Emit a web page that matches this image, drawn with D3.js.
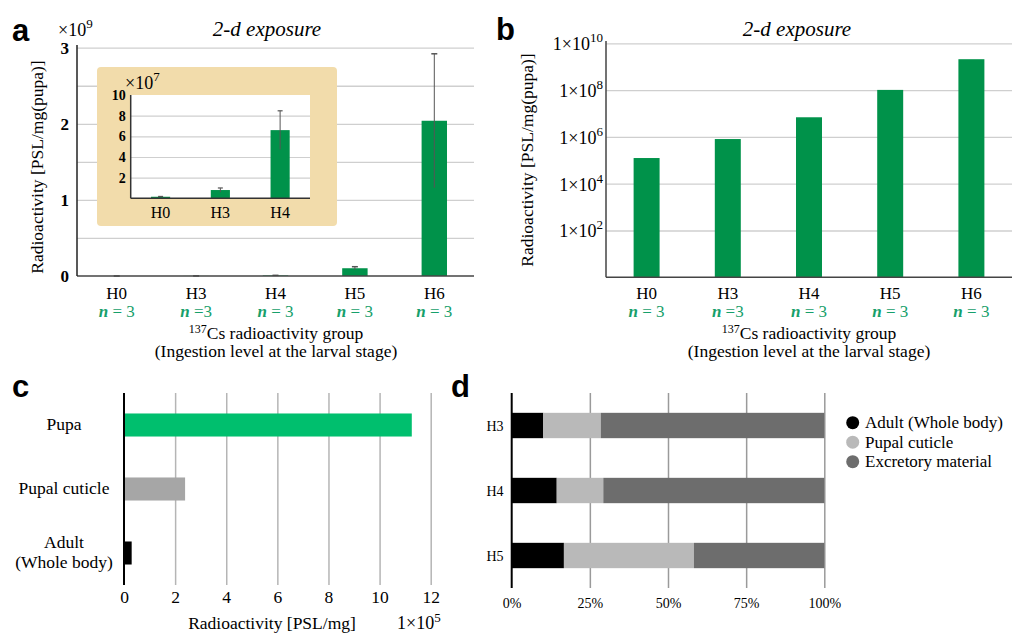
<!DOCTYPE html>
<html>
<head>
<meta charset="utf-8">
<script src="https://cdn.jsdelivr.net/npm/d3@7"></script>
<style>
  body { margin: 0; background: #fff; }
  svg text { font-family: "Liberation Serif", "Times New Roman", serif; }
  .letter { font-family: "Liberation Sans", Arial, sans-serif !important; font-weight: bold; font-size: 31px; }
</style>
</head>
<body>
<div id="fig"></div>
<script>
// ---- data ----
var groups = ["H0", "H3", "H4", "H5", "H6"];
var nLabels = ["n = 3", "n =3", "n = 3", "n = 3", "n = 3"];
// panel a (linear, PSL/mg pupa)
var aMeans = [1.25e5, 8.1e5, 6.9e6, 1.02e8, 2.04e9];
var aErrs = [0.2e5, 1.5e5, 1.9e6, 2.0e7, 0.88e9];
var aGrid = [0.5e9, 1e9, 1.5e9, 2e9, 2.5e9, 3e9];
var aTicks = [0, 1e9, 2e9, 3e9];
// inset (x10^7)
var insetGroups = ["H0", "H3", "H4"];
var insetMeans = [0.15, 0.8, 6.6];
var insetErrs = [0.03, 0.2, 1.87];
var insetGrid = [2, 4, 6, 8];
var insetTicks = [2, 4, 6, 8, 10];
// panel b (log)
var bMeans = [1.25e5, 8.1e5, 6.9e6, 1.02e8, 2.09e9];
var bTicks = [1e2, 1e4, 1e6, 1e8, 1e10];
// panel c
var cCats = ["Pupa", "Pupal cuticle", "Adult"];
var cValues = [11.26, 2.39, 0.30]; // x10^5
var cColors = ["#00bf6e", "#a6a6a6", "#000000"];
var cTicks = [0, 2, 4, 6, 8, 10, 12];
// panel d (percent)
var dCats = ["H3", "H4", "H5"];
var dAdult = [10.1, 14.4, 16.7];
var dCuticle = [18.4, 14.9, 41.6];
var dExcretory = [71.5, 70.7, 41.7];
var dSeries = ["Adult (Whole body)", "Pupal cuticle", "Excretory material"];
var dColors = ["#000000", "#b9b9b9", "#6d6d6d"];
var dTicks = [0, 25, 50, 75, 100];

var green = "#00924a", nGreen = "#17a06b", gridC = "#cfcfcf";
var fs = 17.5;

var svg = d3.select("#fig").append("svg")
  .attr("width", 1017).attr("height", 634);
svg.append("rect").attr("width", 1017).attr("height", 634).attr("fill", "#fff");

function sup(sel, base, exp, supSize, rise) {
  sel.append("tspan").text(base);
  sel.append("tspan").attr("dy", -rise).attr("font-size", supSize).text(exp);
}

function groupLabels(g, x, y0) {
  groups.forEach(function(d, i) {
    var cx = x(d) + x.bandwidth() / 2;
    g.append("text").attr("x", cx).attr("y", y0).attr("text-anchor", "middle")
      .attr("font-size", 17).text(d);
    var t = g.append("text").attr("x", cx).attr("y", y0 + 18).attr("text-anchor", "middle")
      .attr("font-size", 17).attr("fill", nGreen);
    t.append("tspan").attr("font-style", "italic").attr("font-weight", "bold").text("n");
    t.append("tspan").text(nLabels[i].slice(1));
  });
}

function xTitle(g, cx, y0) {
  var t = g.append("text").attr("x", cx).attr("y", y0).attr("text-anchor", "middle").attr("font-size", fs);
  t.append("tspan").attr("font-size", 12).attr("dy", -6).text("137");
  t.append("tspan").attr("dy", 6).text("Cs radioactivity group");
  g.append("text").attr("x", cx).attr("y", y0 + 18).attr("text-anchor", "middle")
    .attr("font-size", fs).text("(Ingestion level at the larval stage)");
}

function title(g, cx) {
  g.append("text").attr("x", cx).attr("y", 36).attr("text-anchor", "middle")
    .attr("font-size", 21).attr("font-style", "italic").text("2-d exposure");
}

// ================= panel a =================
var ga = svg.append("g");
var xA = d3.scaleBand().domain(groups).range([77, 474]).paddingInner(0.68).paddingOuter(0.34);
var yA = d3.scaleLinear().domain([0, 3e9]).range([276, 47.7]);

ga.append("g").attr("transform", "translate(77,0)")
  .call(d3.axisLeft(yA).tickValues(aGrid).tickSize(-397).tickFormat(""))
  .call(function(g) { g.select(".domain").remove(); g.selectAll("line").attr("stroke", gridC).attr("stroke-width", 1.3); });
ga.append("g").attr("transform", "translate(77,0)")
  .call(d3.axisLeft(yA).tickValues(aTicks).tickSize(0).tickPadding(8).tickFormat(function(d) { return d / 1e9; }))
  .call(function(g) {
    g.select(".domain").remove();
    g.selectAll("text").attr("font-size", 17).attr("font-weight", "bold").attr("fill", "#000");
  });

ga.selectAll(".barA").data(aMeans).enter().append("rect")
  .attr("x", function(d, i) { return xA(groups[i]); })
  .attr("width", xA.bandwidth())
  .attr("y", function(d) { return yA(d); })
  .attr("height", function(d) { return yA(0) - yA(d); })
  .attr("fill", green);
aMeans.forEach(function(d, i) {
  var cx = xA(groups[i]) + xA.bandwidth() / 2;
  ga.append("line").attr("x1", cx).attr("x2", cx).attr("y1", yA(d - aErrs[i])).attr("y2", yA(d + aErrs[i]))
    .attr("stroke", "#555").attr("stroke-width", 1);
  ga.append("line").attr("x1", cx - 3).attr("x2", cx + 3).attr("y1", yA(d + aErrs[i])).attr("y2", yA(d + aErrs[i]))
    .attr("stroke", "#555").attr("stroke-width", 1.5);
});
ga.append("line").attr("x1", 77).attr("x2", 474).attr("y1", yA(0)).attr("y2", yA(0)).attr("stroke", "#444").attr("stroke-width", 1.5);
ga.append("line").attr("x1", 77).attr("x2", 77).attr("y1", 45).attr("y2", yA(0)).attr("stroke", "#222").attr("stroke-width", 1.5);

ga.append("text").attr("class", "letter").attr("x", 12).attr("y", 41).text("a");
var ta = ga.append("text").attr("x", 58).attr("y", 36).attr("font-size", 18);
sup(ta, "\u00d710", "9", 13, 8);
title(ga, 267);
ga.append("text").attr("transform", "translate(43,167) rotate(-90)").attr("text-anchor", "middle")
  .attr("font-size", fs).text("Radioactivity [PSL/mg(pupa)]");
groupLabels(ga, xA, 299);
xTitle(ga, 276, 339);

// ---- inset ----
var gi = svg.append("g");
gi.append("rect").attr("x", 97).attr("y", 67).attr("width", 240).attr("height", 159).attr("rx", 4).attr("fill", "#f2dcab");
var xI = d3.scaleBand().domain(insetGroups).range([130.7, 310]).paddingInner(0.68).paddingOuter(0.34);
var yI = d3.scaleLinear().domain([0, 10]).range([198.3, 95]);
gi.append("rect").attr("x", 130.7).attr("y", 95).attr("width", 310 - 130.7).attr("height", 198.3 - 95).attr("fill", "#fff");
gi.append("g").attr("transform", "translate(130.7,0)")
  .call(d3.axisLeft(yI).tickValues(insetGrid).tickSize(-(310 - 130.7)).tickFormat(""))
  .call(function(g) { g.select(".domain").remove(); g.selectAll("line").attr("stroke", gridC).attr("stroke-width", 1.2); });
gi.append("g").attr("transform", "translate(130.7,0)")
  .call(d3.axisLeft(yI).tickValues(insetTicks).tickSize(0).tickPadding(5))
  .call(function(g) {
    g.select(".domain").remove();
    g.selectAll("text").attr("font-size", 14).attr("font-weight", "bold").attr("fill", "#000");
  });
gi.selectAll(".barI").data(insetMeans).enter().append("rect")
  .attr("x", function(d, i) { return xI(insetGroups[i]); })
  .attr("width", xI.bandwidth())
  .attr("y", function(d) { return yI(d); })
  .attr("height", function(d) { return yI(0) - yI(d); })
  .attr("fill", green);
insetMeans.forEach(function(d, i) {
  var cx = xI(insetGroups[i]) + xI.bandwidth() / 2;
  gi.append("line").attr("x1", cx).attr("x2", cx).attr("y1", yI(d - insetErrs[i])).attr("y2", yI(d + insetErrs[i]))
    .attr("stroke", "#555").attr("stroke-width", 1);
  gi.append("line").attr("x1", cx - 2.5).attr("x2", cx + 2.5).attr("y1", yI(d + insetErrs[i])).attr("y2", yI(d + insetErrs[i]))
    .attr("stroke", "#555").attr("stroke-width", 1.2);
  gi.append("text").attr("x", cx).attr("y", 218).attr("text-anchor", "middle").attr("font-size", 16).text(insetGroups[i]);
});
gi.append("line").attr("x1", 130.7).attr("x2", 310).attr("y1", yI(0)).attr("y2", yI(0)).attr("stroke", "#333").attr("stroke-width", 1.5);
gi.append("line").attr("x1", 130.7).attr("x2", 130.7).attr("y1", 95).attr("y2", yI(0)).attr("stroke", "#333").attr("stroke-width", 1.5);
var ti = gi.append("text").attr("x", 125).attr("y", 89).attr("font-size", 18);
sup(ti, "\u00d710", "7", 13, 8);

// ================= panel b =================
var gb = svg.append("g");
var xB = d3.scaleBand().domain(groups).range([606, 1012]).paddingInner(0.68).paddingOuter(0.34);
var yB = d3.scaleLog().domain([1, 1e10]).range([277.3, 43.3]);
gb.append("g").attr("transform", "translate(606,0)")
  .call(d3.axisLeft(yB).tickValues(bTicks).tickSize(-406).tickFormat(""))
  .call(function(g) { g.select(".domain").remove(); g.selectAll("line").attr("stroke", gridC).attr("stroke-width", 1.3); });
gb.append("g").attr("transform", "translate(606,0)")
  .call(d3.axisLeft(yB).tickValues(bTicks).tickSize(0).tickPadding(3).tickFormat(""))
  .call(function(g) {
    g.select(".domain").remove();
    g.selectAll("text").each(function(d) {
      var t = d3.select(this).attr("font-size", 18).attr("fill", "#000").attr("dy", "0.35em");
      t.append("tspan").text("1\u00d710");
      t.append("tspan").attr("dy", -8).attr("font-size", 13).text(Math.round(Math.log10(d)));
    });
  });
gb.selectAll(".barB").data(bMeans).enter().append("rect")
  .attr("x", function(d, i) { return xB(groups[i]); })
  .attr("width", xB.bandwidth())
  .attr("y", function(d) { return yB(d); })
  .attr("height", function(d) { return yB(1) - yB(d); })
  .attr("fill", green);
gb.append("line").attr("x1", 606).attr("x2", 1012).attr("y1", yB(1)).attr("y2", yB(1)).attr("stroke", "#444").attr("stroke-width", 1.5);
gb.append("line").attr("x1", 606).attr("x2", 606).attr("y1", 41).attr("y2", yB(1)).attr("stroke", "#444").attr("stroke-width", 1.5);
gb.append("text").attr("class", "letter").attr("x", 496).attr("y", 40).text("b");
title(gb, 797);
gb.append("text").attr("transform", "translate(533,160) rotate(-90)").attr("text-anchor", "middle")
  .attr("font-size", fs).text("Radioactivity [PSL/mg(pupa)]");
groupLabels(gb, xB, 299);
xTitle(gb, 809, 339);

// ================= panel c =================
var gc = svg.append("g");
var xC = d3.scaleLinear().domain([0, 12]).range([124, 430.7]);
var yC = d3.scaleBand().domain(cCats).range([393, 585]).paddingInner(0.64).paddingOuter(0.32);
gc.append("g").attr("transform", "translate(0,393)")
  .call(d3.axisBottom(xC).tickValues(cTicks.slice(1)).tickSize(192).tickFormat(""))
  .call(function(g) { g.select(".domain").remove(); g.selectAll("line").attr("stroke", "#b5b5b5").attr("stroke-width", 1.5); });
gc.append("g").attr("transform", "translate(0,585)")
  .call(d3.axisBottom(xC).tickValues(cTicks).tickSize(0).tickPadding(6))
  .call(function(g) {
    g.select(".domain").remove();
    g.selectAll("text").attr("font-size", fs).attr("fill", "#000");
  });
gc.selectAll(".barC").data(cValues).enter().append("rect")
  .attr("x", xC(0))
  .attr("y", function(d, i) { return yC(cCats[i]); })
  .attr("height", yC.bandwidth())
  .attr("width", function(d) { return xC(d) - xC(0); })
  .attr("fill", function(d, i) { return cColors[i]; });
gc.append("line").attr("x1", 124).attr("x2", 124).attr("y1", 393).attr("y2", 585).attr("stroke", "#000").attr("stroke-width", 2);
gc.append("text").attr("class", "letter").attr("x", 12).attr("y", 397).text("c");
[["Pupa"], ["Pupal cuticle"], ["Adult", "(Whole body)"]].forEach(function(lines, i) {
  var cy = yC(cCats[i]) + yC.bandwidth() / 2;
  var start = cy + 5 - (lines.length - 1) * 10;
  lines.forEach(function(s, j) {
    gc.append("text").attr("x", 64).attr("y", start + j * 20).attr("text-anchor", "middle").attr("font-size", fs).text(s);
  });
});
var tc = gc.append("text").attr("x", 397).attr("y", 629).attr("font-size", 18);
sup(tc, "1\u00d710", "5", 13, 7);
gc.append("text").attr("x", 272).attr("y", 629).attr("text-anchor", "middle").attr("font-size", fs).text("Radioactivity [PSL/mg]");

// ================= panel d =================
var gd = svg.append("g");
var xD = d3.scaleLinear().domain([0, 100]).range([511.7, 824.3]);
var yD = d3.scaleBand().domain(dCats).range([393, 588]).paddingInner(0.61).paddingOuter(0.305);
gd.append("g").attr("transform", "translate(0,393)")
  .call(d3.axisBottom(xD).tickValues(dTicks.slice(1)).tickSize(195).tickFormat(""))
  .call(function(g) { g.select(".domain").remove(); g.selectAll("line").attr("stroke", "#9a9a9a").attr("stroke-width", 1.5); });
gd.append("g").attr("transform", "translate(0,588)")
  .call(d3.axisBottom(xD).tickValues(dTicks).tickSize(0).tickPadding(10).tickFormat(function(d) { return d + "%"; }))
  .call(function(g) {
    g.select(".domain").remove();
    g.selectAll("text").attr("font-size", 14).attr("fill", "#000");
  });
var stackData = dCats.map(function(c, i) {
  return { cat: c, adult: dAdult[i], cuticle: dCuticle[i], excretory: dExcretory[i] };
});
var stack = d3.stack().keys(["adult", "cuticle", "excretory"])(stackData);
gd.selectAll(".ser").data(stack).enter().append("g")
  .attr("fill", function(d, i) { return dColors[i]; })
  .selectAll("rect").data(function(d) { return d; }).enter().append("rect")
  .attr("x", function(d) { return xD(d[0]); })
  .attr("width", function(d) { return xD(d[1]) - xD(d[0]); })
  .attr("y", function(d) { return yD(d.data.cat); })
  .attr("height", yD.bandwidth());
gd.append("line").attr("x1", 511.7).attr("x2", 511.7).attr("y1", 393).attr("y2", 588).attr("stroke", "#000").attr("stroke-width", 2);
dCats.forEach(function(c) {
  gd.append("text").attr("x", 495).attr("y", yD(c) + yD.bandwidth() / 2 + 5).attr("text-anchor", "middle")
    .attr("font-size", 14).text(c);
});
gd.append("text").attr("class", "letter").attr("x", 451).attr("y", 397).text("d");
dSeries.forEach(function(s, i) {
  var cy = 422.7 + i * 19.5;
  gd.append("circle").attr("cx", 852.7).attr("cy", cy).attr("r", 6.5).attr("fill", dColors[i]);
  gd.append("text").attr("x", 865).attr("y", cy + 5.5).attr("font-size", 17).text(s);
});
</script>
</body>
</html>
